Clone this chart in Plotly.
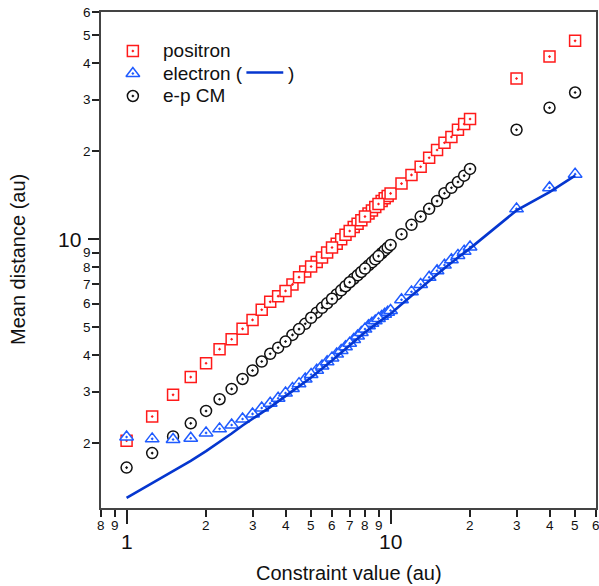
import math
import plotly.graph_objects as go

# ---- data -------------------------------------------------------------
# main scan of the constraint value (markers drawn on top)
scan_x = [1, 1.25, 1.5, 1.75, 2, 2.25, 2.5, 2.75, 3, 3.25, 3.5, 3.75, 4, 4.5, 5,
          6, 7, 8, 9, 10, 11, 12, 13, 14, 15, 16, 17, 18, 19, 20, 30, 40, 50]
# extra fine-scan points between 4 and 10
fine_x = [4.25, 4.75, 5.25, 5.5, 5.75, 6.25, 6.5, 6.75, 7.25, 7.5, 7.75,
          8.25, 8.5, 8.75, 9.25, 9.5, 9.75]

positron_y = [2.04, 2.47, 2.93, 3.37, 3.76, 4.20, 4.54, 4.93, 5.29, 5.73, 6.10,
              6.38, 6.65, 7.41, 8.06, 9.36, 10.67, 11.95, 13.2, 14.35, 15.5,
              16.6, 17.7, 19.0, 20.2, 21.4, 22.4, 23.7, 24.8, 25.8, 35.5, 42.2, 47.8]
positron_y_fine = [7.0, 7.75, 8.35, 8.65, 9.0, 9.65, 10.0, 10.35, 11.0, 11.3,
                   11.6, 12.25, 12.55, 12.9, 13.5, 13.8, 14.05]

electron_y = [2.10, 2.07, 2.06, 2.08, 2.17, 2.24, 2.31, 2.42, 2.52, 2.64, 2.74,
              2.85, 2.97, 3.20, 3.44, 3.92, 4.40, 4.92, 5.35, 5.70, 6.2, 6.6,
              7.0, 7.4, 7.8, 8.15, 8.5, 8.8, 9.1, 9.4, 12.7, 15.0, 16.7]
electron_y_fine = [3.08, 3.32, 3.56, 3.68, 3.80, 4.04, 4.16, 4.28, 4.53, 4.66,
                   4.79, 5.05, 5.15, 5.25, 5.44, 5.53, 5.62]

cm_y = [1.65, 1.85, 2.11, 2.34, 2.58, 2.83, 3.07, 3.32, 3.55, 3.81, 4.05, 4.25,
        4.46, 4.92, 5.38, 6.25, 7.12, 7.93, 8.75, 9.56, 10.4, 11.2, 11.95, 12.7,
        13.5, 14.37, 15.0, 15.7, 16.5, 17.4, 23.7, 28.2, 31.8]
cm_y_fine = [4.70, 5.13, 5.60, 5.82, 6.03, 6.47, 6.68, 6.90, 7.32, 7.52, 7.72,
             8.13, 8.33, 8.53, 8.95, 9.15, 9.35]

# electron curve (solid line)
curve_x = [1, 1.25, 1.5, 1.75, 2, 2.25, 2.5, 2.75, 3, 3.5, 4, 4.5, 5, 6, 7, 8,
           9, 10, 12, 14, 16, 18, 20, 30, 40, 50]
curve_y = [1.30, 1.46, 1.61, 1.74, 1.88, 2.02, 2.16, 2.30, 2.42, 2.66, 2.90,
           3.13, 3.36, 3.84, 4.32, 4.80, 5.20, 5.55, 6.40, 7.20, 7.95, 8.65,
           9.30, 12.55, 14.5, 16.5]

# tick marks and labels
x_major = [1, 10]
x_major_text = ["1", "10"]
x_minor = [0.8, 0.9, 2, 3, 4, 5, 6, 7, 8, 9, 20, 30, 40, 50, 60]
x_minor_text = ["8", "9", "2", "3", "4", "5", "6", "7", "8", "9",
                "2", "3", "4", "5", "6"]
y_major = [10]
y_major_text = ["10"]
y_minor = [2, 3, 4, 5, 6, 7, 8, 9, 20, 30, 40, 50, 60]
y_minor_text = ["2", "3", "4", "5", "6", "7", "8", "9", "2", "3", "4", "5", "6"]

legend_labels = ["positron", "electron (", "e-p CM"]

# ---- style ------------------------------------------------------------
W, H = 599, 586
L, R, T, B = 101, 1, 12, 78
FONT = "Liberation Sans, Arial, sans-serif"
RED = "#ff1a1a"
BLUE = "#1f5bff"
LINE_BLUE = "#0536cf"
BLACK = "#111111"
AXIS = "#444444"


def px_x(p):
    return (p - L) / (W - L - R)


def px_y(p):
    return (H - B - p) / (H - T - B)


def marker(symbol, color, size=11):
    return dict(symbol=symbol, size=size, color="white",
                line=dict(color=color, width=1.5))


fig = go.Figure()

series = [
    ("square-dot", RED, 11, positron_y_fine, positron_y),
    ("circle-dot", BLACK, 11, cm_y_fine, cm_y),
    ("triangle-up-dot", BLUE, 12, electron_y_fine, electron_y),
]
for sym, col, sz, yf, ym in series:
    fig.add_trace(go.Scatter(x=fine_x, y=yf, mode="markers",
                             marker=marker(sym, col, sz), showlegend=False))
    fig.add_trace(go.Scatter(x=scan_x, y=ym, mode="markers",
                             marker=marker(sym, col, sz), showlegend=False))

fig.add_trace(go.Scatter(x=curve_x, y=curve_y, mode="lines",
                         line=dict(color=LINE_BLUE, width=2.6),
                         showlegend=False))

# ---- hand-drawn legend (overlay axes in plot-area fractions) -----------
leg_rows = [51, 73.5, 96]
leg_syms = [("square-dot", RED, 11), ("triangle-up-dot", BLUE, 12),
            ("circle-dot", BLACK, 11)]
for (sym, col, sz), ry in zip(leg_syms, leg_rows):
    fig.add_trace(go.Scatter(x=[px_x(133)], y=[px_y(ry)], mode="markers",
                             marker=marker(sym, col, sz), xaxis="x2",
                             yaxis="y2", showlegend=False, cliponaxis=False))

annotations = []
for txt, ry in zip(legend_labels, leg_rows):
    annotations.append(dict(x=px_x(161), y=px_y(ry), xref="paper", yref="paper",
                            text=txt, showarrow=False, xanchor="left",
                            yanchor="middle", font=dict(size=19, color=BLACK,
                                                         family=FONT)))
annotations.append(dict(x=px_x(287), y=px_y(leg_rows[1]), xref="paper",
                        yref="paper", text=")", showarrow=False,
                        xanchor="left", yanchor="middle",
                        font=dict(size=19, color=BLACK, family=FONT)))

shapes = [dict(type="line", xref="paper", yref="paper",
               x0=px_x(247), x1=px_x(284), y0=px_y(72.5), y1=px_y(72.5),
               line=dict(color=LINE_BLUE, width=2.6))]

# ---- tick labels -------------------------------------------------------
for v, t in zip(x_minor, x_minor_text):
    annotations.append(dict(x=math.log10(v), y=0, xref="x", yref="paper",
                            text=t, showarrow=False, yanchor="middle",
                            yshift=-17, font=dict(size=13.5, color=BLACK,
                                                   family=FONT)))
for v, t in zip(x_major, x_major_text):
    annotations.append(dict(x=math.log10(v), y=0, xref="x", yref="paper",
                            text=t, showarrow=False, yanchor="middle",
                            yshift=-33, font=dict(size=21, color=BLACK,
                                                   family=FONT)))
for v, t in zip(y_minor, y_minor_text):
    annotations.append(dict(x=0, y=math.log10(v), xref="paper", yref="y",
                            text=t, showarrow=False, xanchor="right",
                            yanchor="middle", xshift=-8,
                            font=dict(size=13.5, color=BLACK, family=FONT)))
for v, t in zip(y_major, y_major_text):
    annotations.append(dict(x=0, y=math.log10(v), xref="paper", yref="y",
                            text=t, showarrow=False, xanchor="right",
                            yanchor="middle", xshift=-18,
                            font=dict(size=21, color=BLACK, family=FONT)))

# ---- axis titles -------------------------------------------------------
annotations.append(dict(x=0.5, y=0, xref="paper", yref="paper",
                        text="Constraint value (au)", showarrow=False,
                        yanchor="middle", yshift=-65,
                        font=dict(size=20, color=BLACK, family=FONT)))
annotations.append(dict(x=0, y=0.5, xref="paper", yref="paper",
                        text="Mean distance (au)", showarrow=False,
                        textangle=-90, xanchor="center", yanchor="middle",
                        xshift=-83, font=dict(size=20, color=BLACK,
                                              family=FONT)))

axis_common = dict(type="log", showgrid=False, zeroline=False, showline=True,
                   linecolor=AXIS, linewidth=1.5, mirror=True, ticks="outside",
                   tickwidth=1.5, tickcolor="#222222", showticklabels=False)

fig.update_layout(
    width=W, height=H,
    margin=dict(l=L, r=R, t=T, b=B, pad=0),
    paper_bgcolor="white", plot_bgcolor="white",
    showlegend=False,
    xaxis=dict(axis_common, range=[math.log10(0.8), math.log10(60)],
               tickvals=x_major, ticklen=14,
               minor=dict(tickvals=x_minor, ticklen=7, tickwidth=1.5,
                          tickcolor="#222222", ticks="outside",
                          showgrid=False)),
    yaxis=dict(axis_common, range=[math.log10(1.2), math.log10(60)],
               tickvals=y_major, ticklen=11,
               minor=dict(tickvals=y_minor, ticklen=7, tickwidth=1.5,
                          tickcolor="#222222", ticks="outside",
                          showgrid=False)),
    xaxis2=dict(range=[0, 1], overlaying="x", anchor="y2", visible=False),
    yaxis2=dict(range=[0, 1], overlaying="y", anchor="x2", visible=False),
    annotations=annotations,
    shapes=shapes,
)

fig.write_html("out.html")
